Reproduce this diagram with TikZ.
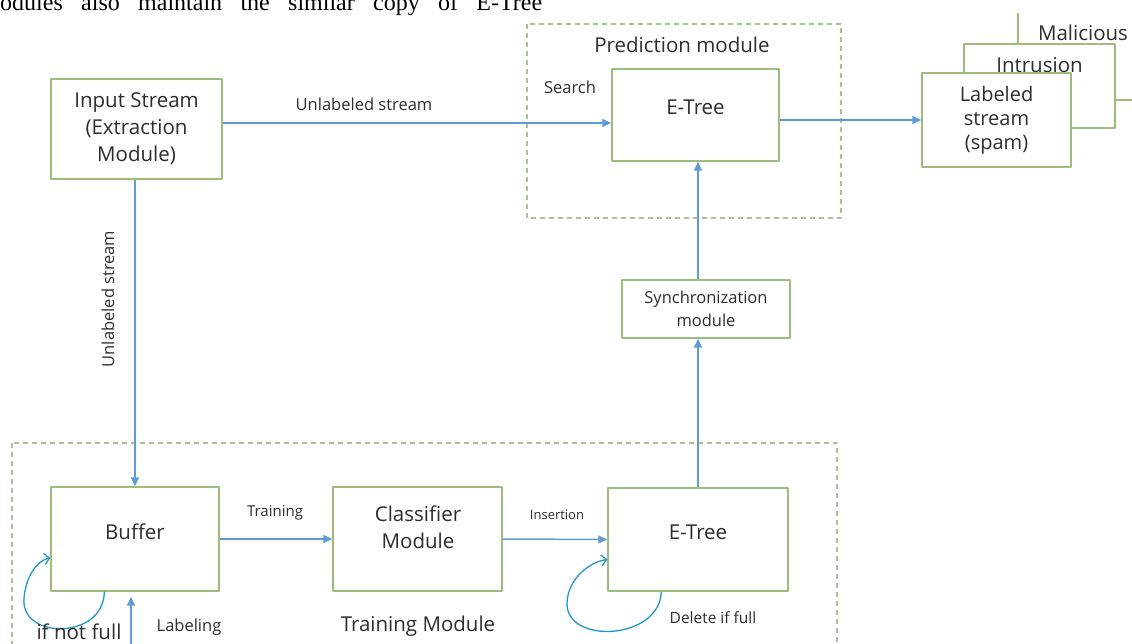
\documentclass[tikz,border=0pt]{standalone}
\usepackage{fontspec}
\setmainfont{Open Sans}
\newfontfamily\paperfont{Liberation Serif}
\usepackage{tikz}
\usetikzlibrary{arrows.meta}

\definecolor{boxgreen}{RGB}{158,188,122}
\definecolor{dashgreen}{RGB}{172,192,150}
\definecolor{flowblue}{RGB}{95,155,212}
\definecolor{loopblue}{RGB}{35,150,205}
\definecolor{txtgray}{RGB}{45,45,45}

\newcommand{\bigfont}{\fontsize{20.5}{27}\selectfont}
\newcommand{\midfont}{\fontsize{16.5}{23}\selectfont}

\tikzset{
  box/.style={draw=boxgreen,line width=1.4pt,fill=white,inner sep=0pt,align=center,text=txtgray,font=\bigfont},
  txt/.style={inner sep=0pt,text=txtgray,font=\midfont,align=center},
  flow/.style={->,draw=flowblue,line width=1.5pt},
  selfloop/.style={-{Straight Barb[length=5pt,width=11pt]},draw=loopblue,line width=1.3pt},
  dashbox/.style={draw=dashgreen,line width=1.2pt,dash pattern=on 5pt off 4pt}
}

\begin{document}
\begin{tikzpicture}[line join=round,>={Triangle[length=9pt,width=8pt]},x=1pt,y=-1pt]
              \useasboundingbox (0,0) rectangle (1132,644);
              \clip (0,0) rectangle (1132,644);

              % line of the paper, cut at the top
              \node[anchor=base west,inner sep=0pt,font=\paperfont\fontsize{24}{24}\selectfont] (papertext) at (0,11)
                {\makebox[542pt][s]{odules also maintain the similar copy of E-Tree}};

              % module frames
              \draw[dashbox] (527,24) rectangle (841,218);
              \draw[dashbox] (12,443) rectangle (837,670);

              \node[box,minimum width=171pt,minimum height=100pt] (input) at (136.5,129) {Input Stream\\(Extraction\\Module)};
              \node[box,minimum width=167pt,minimum height=92pt,text depth=16pt] (etreeP) at (695.5,115) {E-Tree};
              \node[box,minimum width=168pt,minimum height=58pt,font=\midfont] (sync) at (706,309) {Synchronization\\module};
              \node[box,minimum width=168pt,minimum height=104pt,text depth=14pt] (buffer) at (135,539) {Buffer};
              \node[box,minimum width=169pt,minimum height=104pt] (classif) at (417.5,539) {};
              \node[txt,font=\bigfont] (classiftxt) at (418,527) {Classifier\\Module};
              \node[box,minimum width=180pt,minimum height=103pt,text depth=14pt] (etreeT) at (698,539.5) {E-Tree};

              % stacked outputs
              \draw[boxgreen,line width=1.4pt,fill=white] (1018,13) -- (1018,100) -- (1140,100);
              \node[txt,font=\bigfont] (malicious) at (1083,33) {Malicious};
              \node[box,minimum width=151pt,minimum height=84pt,text depth=42pt] (intrusion) at (1039.5,86) {Intrusion};
              \node[box,minimum width=149pt,minimum height=94pt,font=\fontsize{20}{24}\selectfont] (labeled) at (996.5,120) {Labeled\\stream\\(spam)};

              \draw[flow] ([yshift=6pt]input.east) -- ([yshift=6pt]input.east -| etreeP.west);
              \draw[flow] (buffer.north |- input.south) -- (buffer.north);
              \draw[flow] (buffer.east) -- (classif.west);
              \draw[flow] (classif.east) -- (etreeT.west);
              \draw[flow] (etreeT.north) -- (etreeT.north |- sync.south);
              \draw[flow] (etreeT.north |- sync.north) -- (etreeT.north |- etreeP.south);
              \draw[flow] (etreeP.east |- labeled.west) -- (labeled.west);
              \coordinate (labelin) at (131,650);
              \draw[flow] (labelin) -- ([yshift=-5pt]labelin |- buffer.south);

              \draw[selfloop] ([xshift=54pt]buffer.south west) .. controls (104,640) and (20,640) .. (24,598)
                .. controls (26,575) and (38,560) .. ([yshift=-19pt]buffer.west);
              \draw[selfloop] ([xshift=54pt]etreeT.south west) .. controls (660,640) and (566,645) .. (567,603)
                .. controls (568,578) and (590,562) .. ([yshift=-20pt]etreeT.west);

              \node[txt] (lblunlab) at (364,104) {Unlabeled stream};
              \node[txt,rotate=90] (lblunlabv) at (108,299) {Unlabeled stream};
              \node[txt] (lblsearch) at (570,87) {Search};
              \node[txt,font=\bigfont] (lblpred) at (682,45) {Prediction module};
              \node[txt,font=\fontsize{15}{18}\selectfont] (lbltrain) at (275,513) {Training};
              \node[txt,font=\fontsize{13}{16}\selectfont] (lblins) at (557,515) {Insertion};
              \node[txt,font=\bigfont] (lbltrainmod) at (418,626) {Training Module};
              \node[txt] (lbllabeling) at (189,627) {Labeling};
              \node[txt,font=\bigfont] (lblnotfull) at (79,632) {if not full};
              \node[txt,font=\fontsize{15.5}{18}\selectfont] (lbldelete) at (713,618) {Delete if full};

             \end{tikzpicture}
\end{document}
